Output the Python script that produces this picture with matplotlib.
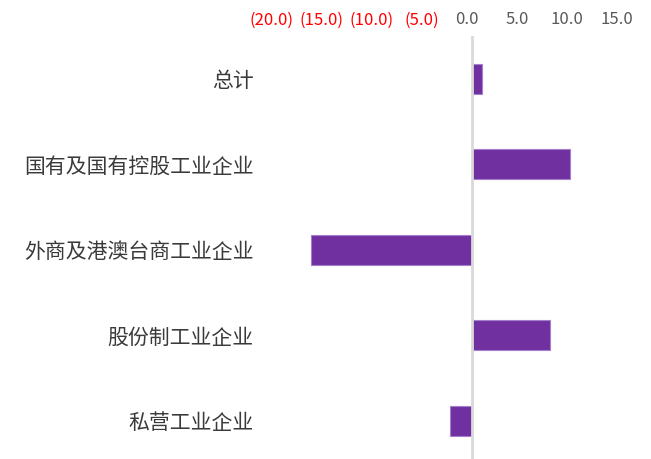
import matplotlib.pyplot as plt
import matplotlib.transforms as mtransforms

plt.rcParams['font.family'] = ['Noto Sans CJK SC', 'DejaVu Sans']

categories = ['总计', '国有及国有控股工业企业', '外商及港澳台商工业企业', '股份制工业企业', '私营工业企业']
values = [1.0, 9.8, -16.1, 7.8, -2.2]
xticks = [-20, -15, -10, -5, 0, 5, 10, 15]

fig = plt.figure(figsize=(6.51, 4.59), dpi=100)
ax = fig.add_axes([271.5 / 651, 0, 350 / 651, 423 / 459])

ypos = list(range(len(categories)))
ax.barh(ypos, values, height=0.35, color='#7030A0', edgecolor='#a47fcb', linewidth=0.8, zorder=2)
ax.axvline(0, color='#d9d9d9', linewidth=2, zorder=3)

ax.set_xlim(-20, 15)
ax.set_ylim(4.447, -0.5)
ax.set_yticks(ypos)
ax.set_yticklabels(categories, fontsize=15, color='#3a3a3a')
ax.tick_params(axis='y', length=0, pad=13)

ax.set_xticks(xticks)
ax.set_xticklabels([])
ax.tick_params(axis='x', length=0)
for s in ax.spines.values():
    s.set_visible(False)

# tick labels on top, accounting-style format
trans = mtransforms.blended_transform_factory(ax.transData, ax.transAxes)
for t in xticks:
    if t < 0:
        txt, col, dx = f'({abs(t):.1f})', '#FF0000', 0
    else:
        txt, col, dx = f'{t:.1f}', '#595959', -4.5
    off = mtransforms.ScaledTranslation(dx / 100, 16 / 100, fig.dpi_scale_trans)
    ax.text(t, 1, txt, transform=trans + off, ha='center', va='center',
            fontsize=12, color=col)

fig.savefig('out.png', dpi=100)
